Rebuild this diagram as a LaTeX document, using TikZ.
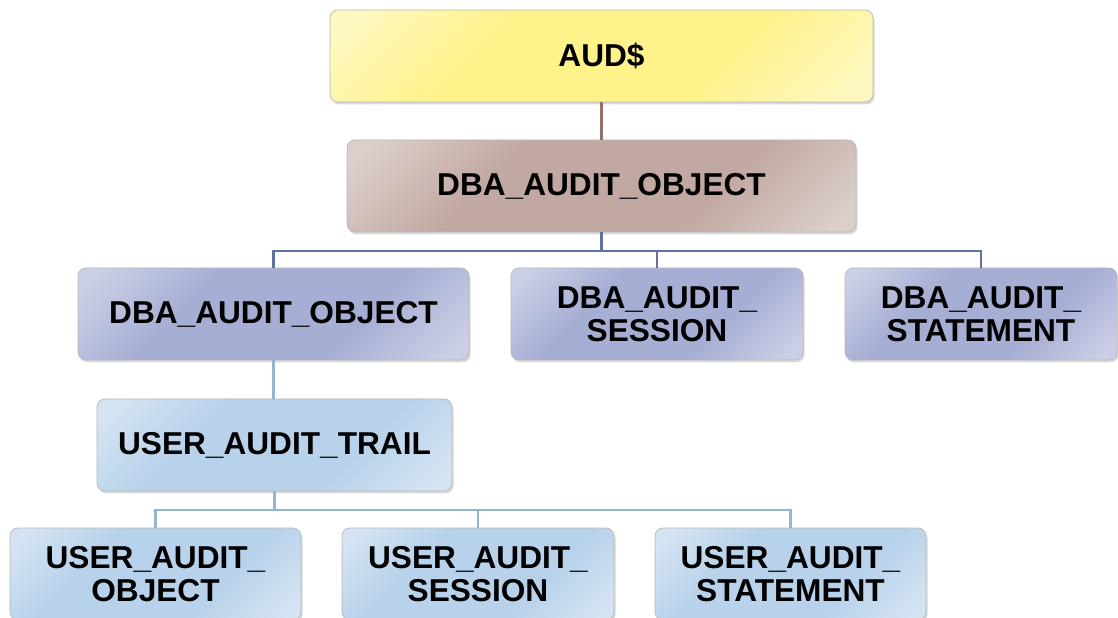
\documentclass[tikz,border=0pt]{standalone}
\usepackage{fontspec}
\setmainfont{Liberation Sans}
\usetikzlibrary{shadows}
\definecolor{audc}{RGB}{255,242,138}
\definecolor{audl}{RGB}{254,248,192}
\definecolor{dbac}{RGB}{194,168,162}
\definecolor{dbal}{RGB}{219,206,203}
\definecolor{viewc}{RGB}{167,174,211}
\definecolor{viewl}{RGB}{203,207,230}
\definecolor{userc}{RGB}{183,210,234}
\definecolor{userl}{RGB}{213,228,243}
\definecolor{brownln}{RGB}{150,112,105}
\definecolor{blueln}{RGB}{96,112,160}
\definecolor{lightln}{RGB}{150,180,210}
\pgfdeclareverticalshading{audshade}{100bp}{color(0bp)=(audl); color(18bp)=(audl); color(36bp)=(audc); color(64bp)=(audc); color(82bp)=(audl); color(100bp)=(audl)}
\pgfdeclareverticalshading{dbashade}{100bp}{color(0bp)=(dbal); color(18bp)=(dbal); color(36bp)=(dbac); color(64bp)=(dbac); color(82bp)=(dbal); color(100bp)=(dbal)}
\pgfdeclareverticalshading{viewshade}{100bp}{color(0bp)=(viewl); color(18bp)=(viewl); color(36bp)=(viewc); color(64bp)=(viewc); color(82bp)=(viewl); color(100bp)=(viewl)}
\pgfdeclareverticalshading{usershade}{100bp}{color(0bp)=(userl); color(18bp)=(userl); color(36bp)=(userc); color(64bp)=(userc); color(82bp)=(userl); color(100bp)=(userl)}

\begin{document}
\begin{tikzpicture}
\tikzstyle{box}=[rounded corners=0.16cm,draw=gray!55,line width=0.4pt,inner sep=0pt,minimum height=1.84cm,align=center,font=\fontsize{18}{19}\selectfont\bfseries,drop shadow={opacity=0.3,shadow xshift=0.03cm,shadow yshift=-0.05cm}];
\tikzstyle{aud}=[box,shading=audshade,shading angle=45];
\tikzstyle{dba}=[box,shading=dbashade,shading angle=45];
\tikzstyle{view}=[box,shading=viewshade,shading angle=45];
\tikzstyle{user}=[box,shading=usershade,shading angle=45];

\useasboundingbox (0,0) rectangle (22.36,-12.36);

\begin{scope}
        % bus points, boxes on top
        \coordinate (topbus) at (12.03,-5.02);
        \coordinate (lowbus) at (5.49,-10.20);

        \node[aud,minimum width=10.86cm] (aud) at (12.03,-1.12) {AUD\$};
        \node[dba,minimum width=10.18cm] (dbaobj) at (12.03,-3.72) {DBA\_AUDIT\_OBJECT};

        \node[view,minimum width=7.82cm] (obj) at (5.47,-6.28) {DBA\_AUDIT\_OBJECT};
        \node[view,minimum width=5.84cm] (ses) at (13.14,-6.28) {DBA\_AUDIT\_\\SESSION};
        \node[view,minimum width=5.44cm] (stm) at (19.62,-6.28) {DBA\_AUDIT\_\\STATEMENT};

        \node[user,minimum width=7.10cm] (trail) at (5.49,-8.90) {USER\_AUDIT\_TRAIL};

        \node[user,minimum width=5.82cm] (uobj) at (3.11,-11.48) {USER\_AUDIT\_\\OBJECT};
        \node[user,minimum width=5.44cm] (uses) at (9.56,-11.48) {USER\_AUDIT\_\\SESSION};
        \node[user,minimum width=5.42cm] (ustm) at (15.81,-11.48) {USER\_AUDIT\_\\STATEMENT};
\end{scope}

\begin{scope}[line width=1.2pt]
        \draw[brownln] (aud.south) -- (dbaobj.north);

        \draw[blueln] (dbaobj.south) -- (topbus);
        \draw[blueln] (topbus) -| (obj.north);
        \draw[blueln] (topbus) -| (ses.north);
        \draw[blueln] (topbus) -| (stm.north);

        \draw[lightln] (obj.south) -- (obj.south |- trail.north);

        \draw[lightln] (trail.south) -- (lowbus);
        \draw[lightln] (lowbus) -| (uobj.north);
        \draw[lightln] (lowbus) -| (uses.north);
        \draw[lightln] (lowbus) -| (ustm.north);
\end{scope}

\end{tikzpicture}
\end{document}
